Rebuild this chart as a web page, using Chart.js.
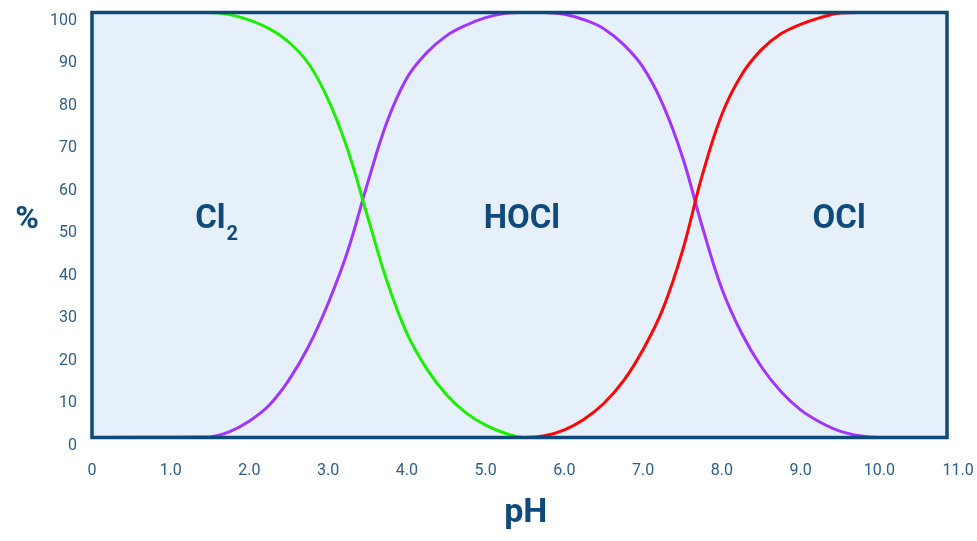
<!DOCTYPE html>
<html>
<head>
<meta charset="utf-8">
<script src="https://cdn.jsdelivr.net/npm/chart.js@4"></script>
<style>
  html, body { margin: 0; padding: 0; background: #ffffff; }
  #wrap { width: 977px; height: 541px; }
</style>
</head>
<body>
<div id="wrap"><canvas id="chlorineChart"></canvas></div>
<script>
// axis tick labels
const phTicks = [0, 1, 2, 3, 4, 5, 6, 7, 8, 9, 10, 11];
const pctTicks = [0, 10, 20, 30, 40, 50, 60, 70, 80, 90, 100];

// Cl2 (%)
const phCl2  = [0, 1.5, 1.75, 2.0, 2.25, 2.5, 2.75, 3.0, 3.25, 3.5, 3.75, 4.0, 4.25, 4.5, 4.75, 5.0, 5.25, 5.5, 11];
const pctCl2 = [100, 100, 99.5, 98.2, 96.2, 93, 88, 79.5, 67.6, 52, 36.6, 24.5, 16.2, 10.1, 5.8, 2.9, 1.0, 0, 0];

// HOCl (%)
const phHOCl  = [0, 1.5, 1.75, 2.0, 2.25, 2.5, 2.75, 3.0, 3.25, 3.5, 3.75, 4.0, 4.25, 4.5, 4.75, 5.0, 5.25, 5.5,
                 5.75, 6.0, 6.25, 6.5, 6.75, 7.0, 7.25, 7.5, 7.75, 8.0, 8.25, 8.5, 8.75, 9.0, 9.25, 9.5, 9.75, 10, 11];
const pctHOCl = [0, 0.2, 1.4, 3.9, 7.6, 13.5, 21.4, 31.6, 44.0, 59.8, 74.4, 84.6, 90.5, 94.5, 97.0, 98.8, 99.8, 100,
                 100, 99.6, 98.3, 96.2, 92.5, 87.1, 78.4, 66, 49.7, 35, 24.6, 16.7, 10.8, 6.5, 3.6, 1.5, 0.4, 0, 0];

// OCl (%)
const phOCl  = [0, 5.5, 5.75, 6.0, 6.25, 6.5, 6.75, 7.0, 7.25, 7.5, 7.75, 8.0, 8.25, 8.5, 8.75, 9.0, 9.25, 9.5, 9.75, 11];
const pctOCl = [0, 0, 0.4, 1.8, 4.3, 8.0, 13.3, 20.7, 30.2, 43.9, 61.6, 76.0, 85.3, 91.2, 95.0, 97.2, 98.8, 99.9, 100, 100];

const navy = "#0e4a7c";
const tickColor = "#2b5f8d";

function toPoints(xs, ys) {
    return xs.map((x, i) => ({ x: x, y: ys[i] }));
}

// background, frame and text labels
const framePlugin = {
    id: "frame",
    beforeDatasetsDraw(chart) {
        const { ctx, chartArea } = chart;
        ctx.save();
        ctx.fillStyle = "#e6f0fa";
        ctx.fillRect(chartArea.left, chartArea.top, chartArea.right - chartArea.left, chartArea.bottom - chartArea.top);
        ctx.restore();
    },
    afterDatasetsDraw(chart) {
        const { ctx, chartArea, scales } = chart;
        ctx.save();
        ctx.strokeStyle = "#0d4a7a";
        ctx.lineWidth = 3.5;
        ctx.strokeRect(chartArea.left, chartArea.top, chartArea.right - chartArea.left, chartArea.bottom - chartArea.top);

        ctx.fillStyle = navy;
        ctx.textBaseline = "alphabetic";
        const baseY = scales.y.getPixelForValue(49.3);

        // Cl2 with subscript
        ctx.font = "bold 33px Roboto";
        ctx.textAlign = "left";
        const clX = scales.x.getPixelForValue(1.31);
        ctx.fillText("Cl", clX, baseY);
        const clW = ctx.measureText("Cl").width;
        ctx.font = "bold 20px Roboto";
        ctx.fillText("2", clX + clW + 1, baseY + 12);

        ctx.font = "bold 33px Roboto";
        ctx.textAlign = "center";
        ctx.fillText("HOCl", scales.x.getPixelForValue(5.46), baseY);
        ctx.fillText("OCl", scales.x.getPixelForValue(9.49), baseY);

        // axis titles
        ctx.font = "bold 32px Roboto";
        ctx.fillText("%", 27, scales.y.getPixelForValue(49.3));
        ctx.font = "bold 34px Roboto";
        ctx.fillText("pH", scales.x.getPixelForValue(5.51), 522);
        ctx.restore();
    }
};

const chartEl = document.getElementById("chlorineChart");

new Chart(chartEl, {

    type: "line",

    data: {

        datasets: [

            {
                label: "Cl2",
                data: toPoints(phCl2, pctCl2),
                borderColor: "#1cf000"
            },

            {
                label: "OCl",
                data: toPoints(phOCl, pctOCl),
                borderColor: "#ff0505"
            },

            {
                label: "HOCl",
                data: toPoints(phHOCl, pctHOCl),
                borderColor: "#a234ff"
            }

        ]

    },

    options: {

        responsive: true,
        maintainAspectRatio: false,
        animation: false,

        elements: {
            line: { borderWidth: 3, tension: 0.4 },
            point: { radius: 0 }
        },

        layout: {
            padding: { left: 0, right: 30, top: 12.5, bottom: 0 }
        },

        plugins: {
            legend: { display: false },
            tooltip: { enabled: false }
        },

        scales: {

            x: {
                type: "linear",
                min: 0,
                max: 10.86,
                grid: { display: false, drawTicks: false },
                border: { display: false },
                afterBuildTicks(scale) {
                    scale.ticks = phTicks.map(v => ({ value: v }));
                },
                afterFit(scale) {
                    scale.height = 103.5;
                    scale.paddingLeft = 0;
                    scale.paddingRight = 0;
                    scale.paddingTop = 0;
                    scale.paddingBottom = 0;
                },
                ticks: {
                    autoSkip: false,
                    maxRotation: 0,
                    padding: 24,
                    color: tickColor,
                    font: { family: "Roboto", size: 16 },
                    callback: v => v === 0 ? "0" : Number(v).toFixed(1)
                }
            },

            y: {
                type: "linear",
                min: 0,
                max: 100,
                grid: { display: false, drawTicks: false },
                border: { display: false },
                afterBuildTicks(scale) {
                    scale.ticks = pctTicks.map(v => ({ value: v }));
                },
                afterFit(scale) {
                    scale.width = 92;
                    scale.paddingLeft = 0;
                    scale.paddingRight = 0;
                    scale.paddingTop = 0;
                    scale.paddingBottom = 0;
                },
                ticks: {
                    padding: 15,
                    labelOffset: 8,
                    color: tickColor,
                    font: { family: "Roboto", size: 16 }
                }
            }

        }

    },

    plugins: [framePlugin]

});
</script>
</body>
</html>
